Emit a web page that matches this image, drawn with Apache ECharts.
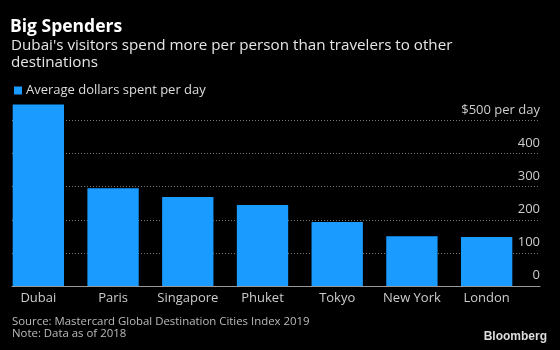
<!DOCTYPE html>
<html><head><meta charset="utf-8">
<script src="https://cdn.jsdelivr.net/npm/echarts@6/dist/echarts.min.js"></script>
<style>html,body{margin:0;padding:0;background:#000}#c{width:560px;height:350px}</style>
</head><body><div id="c"></div>
<script>
const categories = ['Dubai', 'Paris', 'Singapore', 'Phuket', 'Tokyo', 'New York', 'London'];
const spending = [548, 295, 269, 245, 193, 150, 148];
const yTicks = [0, 100, 200, 300, 400, 500];
const seriesName = 'Average dollars spent per day';

const FONT = '"Open Sans", sans-serif';
const chart = echarts.init(document.getElementById('c'), null, {renderer: 'canvas'});
const k = 165.5 / 500; // px per unit
chart.setOption({
  backgroundColor: '#000',
  animation: false,
  textStyle: {fontFamily: FONT},
  title: [
    {text: 'Big Spenders', left: 10, top: 18, padding: 0, textStyle: {color: '#fff', fontSize: 17.5, fontWeight: 'bold', fontFamily: FONT}},
    {text: "Dubai's visitors spend more per person than travelers to other\ndestinations", left: 11, top: 36.5, padding: 0,
     textStyle: {color: '#e6e6e6', fontSize: 15.2, fontWeight: 'normal', lineHeight: 17.5, fontFamily: FONT}},
    {text: 'Source: Mastercard Global Destination Cities Index 2019\nNote: Data as of 2018', left: 12, top: 315, padding: 0,
     textStyle: {color: '#bbb', fontSize: 11.4, fontWeight: 'normal', lineHeight: 12.5, fontFamily: FONT}},
    {text: 'Bloomberg', right: 13, top: 331, padding: 0, textStyle: {color: '#ddd', fontSize: 12, fontWeight: 'bold', fontFamily: 'Liberation Sans, Arial, sans-serif'}}
  ],
  legend: {
    data: [seriesName], left: 14, top: 84, padding: 0, icon: 'rect', itemWidth: 8, itemHeight: 8, itemGap: 5,
    textStyle: {color: '#ddd', fontSize: 13, fontFamily: FONT, padding: [0, 0, 0, -1]}
  },
  grid: [
    {left: 1, right: 36, top: 286 - 550 * k, bottom: 64},
    {left: 12, right: 20, top: 286 - 500 * k, bottom: 64}
  ],
  xAxis: [
    {type: 'category', gridIndex: 0, data: categories,
     axisLine: {show: false}, axisTick: {show: false},
     axisLabel: {color: '#ccc', fontSize: 13, margin: 6, interval: 0, fontFamily: FONT}},
    {type: 'value', gridIndex: 1, min: 0, max: 1, axisLabel: {show: false}, axisTick: {show: false},
     splitLine: {show: false}, axisLine: {show: true, lineStyle: {color: '#999', width: 1}}, z: 5}
  ],
  yAxis: [
    {type: 'value', gridIndex: 0, min: 0, max: 550, show: false, splitLine: {show: false}},
    {type: 'value', gridIndex: 1, min: 0, max: 500, interval: 100, position: 'right',
     axisLine: {show: false}, axisTick: {show: false},
     splitLine: {show: true, lineStyle: {color: '#777', type: [1, 2], width: 1}},
     axisLabel: {inside: true, margin: 0, color: '#ccc', fontSize: 13, verticalAlign: 'bottom', padding: [0, 0, 4, 0],
       fontFamily: FONT,
       formatter: v => v === 500 ? '$500 per day' : String(v)}}
  ],
  series: [{
    name: seriesName, type: 'bar', xAxisIndex: 0, yAxisIndex: 0, data: spending,
    barCategoryGap: '31.3%', itemStyle: {color: '#1a9bff'}, z: 3
  }]
});
</script></body></html>
